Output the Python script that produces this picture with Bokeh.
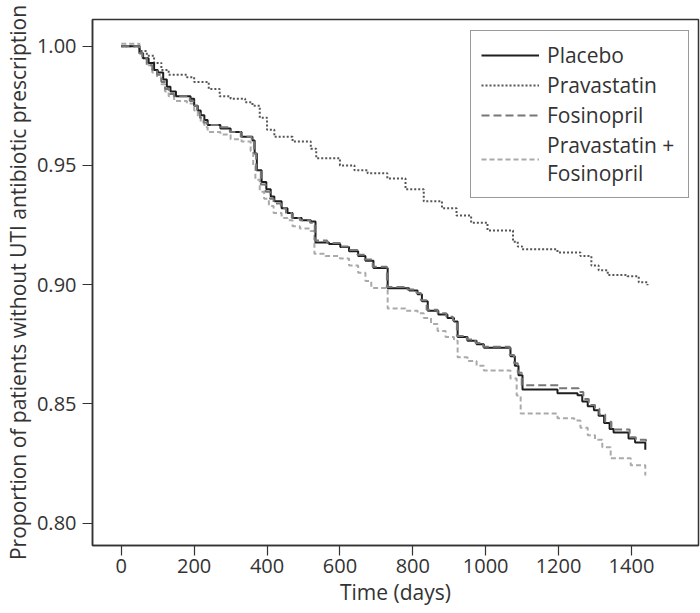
from bokeh.plotting import figure
from bokeh.models import Range1d, Legend, LegendItem, FixedTicker, CustomJSTickFormatter, Title
from bokeh.embed import file_html
from bokeh.resources import INLINE

# ---- data (Kaplan-Meier steps) ----
placebo_t = [0, 50, 60, 75, 90, 100, 115, 125, 135, 150,
             190, 200, 210, 218, 228, 237, 272, 300, 330, 360,
             366, 372, 385, 398, 410, 420, 440, 456, 470, 495,
             520, 533, 570, 601, 625, 650, 670, 692, 731, 790,
             813, 825, 841, 870, 895, 913, 923, 950, 975, 995,
             1068, 1080, 1090, 1101, 1197, 1252, 1265, 1280, 1297, 1310,
             1325, 1340, 1351, 1392, 1410, 1438]
placebo_v = [1.0, 0.997, 0.995, 0.993, 0.990, 0.989, 0.986, 0.983, 0.981, 0.979,
             0.978, 0.975, 0.973, 0.971, 0.969, 0.967, 0.9655, 0.964, 0.962, 0.9605,
             0.955, 0.948, 0.943, 0.940, 0.937, 0.935, 0.932, 0.930, 0.928, 0.927,
             0.9265, 0.9177, 0.917, 0.9158, 0.914, 0.912, 0.910, 0.907, 0.8985, 0.8975,
             0.896, 0.893, 0.889, 0.8875, 0.886, 0.8845, 0.878, 0.8765, 0.875, 0.8735,
             0.8700, 0.866, 0.862, 0.856, 0.8544, 0.8536, 0.851, 0.849, 0.8473, 0.845,
             0.842, 0.8395, 0.838, 0.8355, 0.8338, 0.8308]

prava_t = [0, 50, 70, 90, 110, 130, 180, 200, 240, 270,
           300, 340, 360, 380, 400, 420, 470, 520, 535, 600,
           640, 676, 730, 780, 830, 880, 920, 960, 1005, 1075,
           1088, 1100, 1197, 1260, 1290, 1310, 1335, 1389, 1420, 1444]
prava_v = [1.0, 0.998, 0.996, 0.993, 0.990, 0.988, 0.987, 0.985, 0.982, 0.979,
           0.978, 0.9765, 0.975, 0.970, 0.965, 0.962, 0.960, 0.957, 0.953, 0.950,
           0.948, 0.9467, 0.9445, 0.940, 0.935, 0.932, 0.929, 0.926, 0.9227, 0.918,
           0.9160, 0.9148, 0.9135, 0.912, 0.908, 0.906, 0.904, 0.9035, 0.901, 0.8997]

fosi_t = [0, 50, 58, 70, 85, 98, 110, 120, 130, 145,
          188, 198, 208, 216, 226, 235, 270, 298, 328, 358,
          364, 370, 383, 396, 408, 418, 438, 452, 468, 490,
          518, 531, 565, 600, 622, 648, 668, 690, 729, 785,
          810, 822, 838, 868, 892, 910, 921, 948, 972, 993,
          1066, 1078, 1088, 1099, 1200, 1255, 1268, 1283, 1300, 1312,
          1328, 1345, 1352, 1395, 1412, 1440]
fosi_v = [1.0, 0.997, 0.995, 0.992, 0.990, 0.988, 0.985, 0.982, 0.980, 0.979,
          0.977, 0.975, 0.972, 0.970, 0.968, 0.967, 0.966, 0.964, 0.962, 0.960,
          0.955, 0.948, 0.942, 0.939, 0.936, 0.934, 0.932, 0.930, 0.928, 0.927,
          0.926, 0.9185, 0.9175, 0.916, 0.9145, 0.9125, 0.9105, 0.9075, 0.899, 0.898,
          0.8965, 0.8935, 0.8895, 0.888, 0.8865, 0.885, 0.8785, 0.877, 0.8755, 0.874,
          0.8705, 0.867, 0.863, 0.8578, 0.8565, 0.855, 0.852, 0.8495, 0.848, 0.8455,
          0.8425, 0.840, 0.8393, 0.836, 0.835, 0.8326]

combo_t = [0, 50, 58, 70, 85, 98, 110, 120, 130, 145,
           180, 200, 210, 218, 228, 237, 272, 300, 330, 355,
           362, 368, 380, 392, 405, 418, 440, 456, 470, 490,
           519, 530, 560, 600, 625, 650, 670, 686, 731, 780,
           813, 830, 850, 868, 890, 913, 923, 950, 975, 995,
           1068, 1085, 1096, 1197, 1243, 1260, 1280, 1300, 1320, 1343,
           1398, 1438]
combo_v = [1.001, 0.997, 0.995, 0.992, 0.989, 0.987, 0.984, 0.981, 0.979, 0.977,
           0.976, 0.973, 0.970, 0.968, 0.966, 0.964, 0.963, 0.961, 0.960, 0.956,
           0.950, 0.944, 0.939, 0.936, 0.933, 0.930, 0.928, 0.927, 0.9245, 0.9235,
           0.9225, 0.913, 0.912, 0.911, 0.908, 0.905, 0.9015, 0.8986, 0.890, 0.889,
           0.888, 0.886, 0.8835, 0.8806, 0.878, 0.8765, 0.8695, 0.868, 0.866, 0.864,
           0.8606, 0.8535, 0.846, 0.844, 0.843, 0.840, 0.8368, 0.835, 0.8318, 0.8272,
           0.8243, 0.820]

series_names = ["Placebo", "Pravastatin", "Fosinopril", "Pravastatin +\nFosinopril"]
x_ticks = [0, 200, 400, 600, 800, 1000, 1200, 1400]
y_ticks = [0.80, 0.85, 0.90, 0.95, 1.00]
x_title = "Time (days)"
y_title = "Proportion of patients without UTI antibiotic prescription"

FONT = "Open Sans"
TXT = "#333333"

p = figure(width=700, height=613, output_backend="svg", toolbar_location=None,
           x_range=Range1d(-79, 1584), y_range=Range1d(0.7906, 1.0112),
           min_border_left=92, min_border_right=2, min_border_top=19,
           min_border_bottom=68)

p.xgrid.visible = False
p.ygrid.visible = False
p.outline_line_color = "#333333"
p.outline_line_width = 1.5
p.outline_line_alpha = 1.0

p.xaxis.ticker = FixedTicker(ticks=x_ticks)
p.yaxis.ticker = FixedTicker(ticks=y_ticks)
p.yaxis.formatter = CustomJSTickFormatter(code="return tick.toFixed(2);")

for ax in (p.xaxis[0], p.yaxis[0]):
    ax.axis_line_color = "#333333"
    ax.axis_line_width = 1.5
    ax.major_tick_line_color = "#333333"
    ax.major_tick_line_width = 1.2
    ax.major_tick_in = 0
    ax.major_tick_out = 10
    ax.minor_tick_line_color = None
    ax.major_label_text_font = FONT
    ax.major_label_text_font_size = "20px"
    ax.major_label_text_color = TXT
    ax.axis_label_text_font = FONT
    ax.axis_label_text_font_style = "normal"
    ax.axis_label_text_color = TXT
    ax.axis_label_text_font_size = "21px"

p.yaxis.axis_label = y_title
p.xaxis.major_label_standoff = 3
p.yaxis.major_label_standoff = 6
p.yaxis.axis_label_standoff = 2

# x-axis title as a title panel below the axis
p.add_layout(Title(text=x_title, align="center", text_font=FONT,
                   text_font_size="21px", text_font_style="normal",
                   text_color=TXT, standoff=0, offset=0), "below")

r_combo = p.step(combo_t, combo_v, mode="after", line_color="#aaaaaa",
                 line_width=2, line_dash="5 3")
r_prava = p.step(prava_t, prava_v, mode="after", line_color="#555555",
                 line_width=2, line_dash="2 2")
r_plac = p.step(placebo_t, placebo_v, mode="after", line_color="#1e1e1e",
                line_width=2)
r_fosi = p.step(fosi_t, fosi_v, mode="after", line_color="#777777",
                line_width=2, line_dash="8 4")

legend = Legend(items=[
    LegendItem(label=series_names[0], renderers=[r_plac]),
    LegendItem(label=series_names[1], renderers=[r_prava]),
    LegendItem(label=series_names[2], renderers=[r_fosi]),
    LegendItem(label=series_names[3], renderers=[r_combo]),
], location=(378, 347))
legend.border_line_color = "#333333"
legend.border_line_width = 1.5
legend.background_fill_alpha = 1.0
legend.padding = 10
legend.spacing = 2
legend.margin = 0
legend.glyph_width = 58
legend.glyph_height = 22
legend.label_height = 22
legend.label_width = 131
legend.label_standoff = 8
legend.label_text_font = FONT
legend.label_text_font_size = "21px"
legend.label_text_color = TXT
p.add_layout(legend)

open("out.html", "w").write(file_html(p, INLINE))
